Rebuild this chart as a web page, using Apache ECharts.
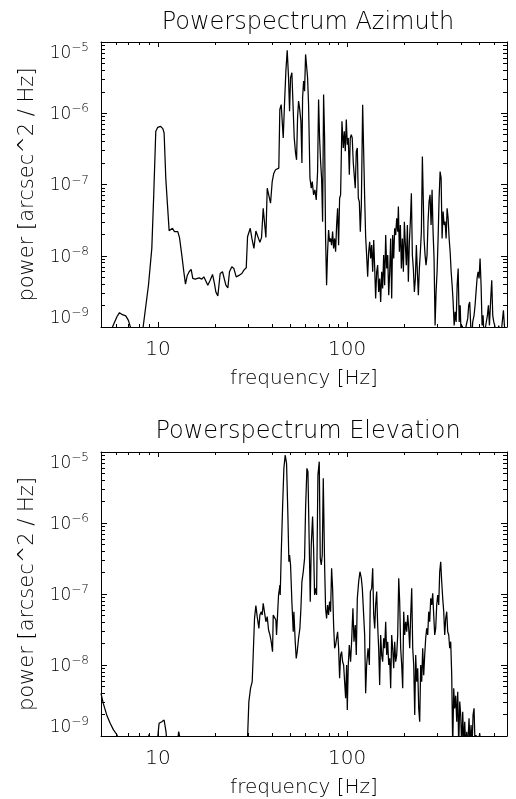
<!DOCTYPE html>
<html>
<head>
<meta charset="utf-8">
<script src="https://cdn.jsdelivr.net/npm/echarts@6/dist/echarts.min.js"></script>
<style>
html,body{margin:0;padding:0;background:#fff;}
#chart{width:516px;height:799px;}
</style>
</head>
<body>
<div id="chart"></div>
<script>
// ---- data: [frequency Hz, power arcsec^2/Hz] ----
const AZIMUTH_SPECTRUM = [
[5.4,5e-10],[5.75,1.0e-9],[6.06,1.38e-9],[6.26,1.59e-9],[6.49,1.49e-9],[6.76,1.43e-9],[6.98,1.24e-9],[7.15,1.0e-9],[7.35,5e-10],[8.1,6e-10],
[8.35,1.0e-9],[8.55,1.03e-9],[8.91,3.86e-9],[9.28,1.27e-8],[9.5,7.15e-8],[9.74,5.58e-7],[9.98,6.35e-7],[10.31,6.56e-7],[10.61,6.08e-7],[10.78,5.28e-7],
[11.0,1.23e-7],[11.23,5.18e-8],[11.46,2.25e-8],[11.74,2.3e-8],[11.93,2.43e-8],[12.23,2.18e-8],[12.48,2.11e-8],[12.73,2.18e-8],[13.0,1.8e-8],[13.37,1.02e-8],
[13.7,5.96e-9],[13.98,3.99e-9],[14.27,5.23e-9],[14.62,5.96e-9],[14.98,6.43e-9],[15.28,4.8e-9],[15.73,4.69e-9],[16.11,4.4e-9],[16.51,4.9e-9],[17.06,4.69e-9],
[17.48,5.06e-9],[17.91,4.8e-9],[18.35,3.86e-9],[18.88,4.54e-9],[19.43,5.46e-9],[19.9,4.07e-9],[20.23,3.11e-9],[20.73,2.73e-9],[21.33,5.64e-9],[21.94,5.96e-9],
[22.39,6.28e-9],[22.86,3.86e-9],[23.42,3.54e-9],[23.89,5.96e-9],[24.58,7.0e-9],[25.19,6.64e-9],[25.92,5.06e-9],[26.45,4.9e-9],[26.99,5.35e-9],[27.77,5.64e-9],
[28.46,6.28e-9],[29.29,6.78e-9],[29.76,1.85e-8],[30.75,2.43e-8],[31.38,1.75e-8],[32.16,1.27e-8],[32.94,2.22e-8],[33.75,2.18e-8],[34.58,1.54e-8],[35.29,1.8e-8],
[36.01,4.64e-8],[36.6,4.4e-8],[37.2,1.8e-8],[37.81,8.88e-8],[38.56,9.38e-8],[39.37,5.46e-8],[40.18,1.1e-7],[40.97,1.44e-7],[41.84,1.61e-7],[42.7,1.52e-7],
[43.54,1.7e-7],[44.08,1.13e-6],[44.83,1.32e-6],[45.94,4.5e-7],[46.69,1.4e-6],[47.45,3.91e-6],[48.23,7.63e-6],[49.02,3.15e-6],[49.62,1.07e-6],[50.23,3.15e-6],
[51.05,3.7e-6],[51.68,1.48e-6],[52.53,4.5e-7],[53.38,2.76e-7],[54.04,2.22e-7],[54.7,8.59e-7],[55.37,1.48e-6],[56.04,1.19e-6],[56.98,7.71e-7],[57.68,2.0e-7],
[58.15,1.64e-6],[58.86,2.83e-6],[59.58,2.04e-6],[60.31,6.7e-6],[61.05,6.35e-6],[61.8,3.15e-6],[62.55,1.32e-6],[63.61,1.23e-7],[64.63,8.88e-8],[65.41,1.1e-7],
[66.49,7.15e-8],[67.57,8.41e-8],[68.68,6.08e-8],[69.8,1.52e-7],[70.65,1.56e-6],[71.52,4.5e-7],[72.4,2.11e-7],[73.29,1.23e-7],[74.19,3.01e-8],[75.1,1.83e-6],
[76.02,4.5e-7],[76.94,1.75e-8],[77.88,3.86e-9],[78.84,1.14e-8],[79.8,2.3e-8],[80.78,1.57e-8],[81.78,1.75e-8],[82.78,1.41e-8],[83.8,2.18e-8],[84.83,1.27e-8],
[85.87,1.75e-8],[86.92,1.14e-8],[87.99,2.7e-8],[89.06,4.64e-8],[90.15,1.41e-8],[91.26,6.42e-8],[92.38,7.15e-8],[93.89,7.71e-7],[95.44,3.25e-7],[96.6,5.57e-7],
[97.79,2.92e-7],[99.0,8.15e-7],[100.2,3.62e-7],[101.4,4.5e-7],[102.7,1.37e-7],[103.9,4.5e-7],[105.2,5.01e-7],[106.4,4.5e-7],[107.8,2.0e-7],[109.1,2.11e-7],
[110.4,8.88e-8],[111.8,2.92e-7],[113.2,3.25e-7],[114.6,6.42e-8],[116.0,5.76e-8],[117.4,2.18e-8],[118.9,5.18e-8],[120.8,1.32e-6],[123.8,6.42e-8],[125.3,1.85e-8],
[126.8,1.02e-8],[128.4,5.06e-9],[130.0,1.14e-8],[131.6,1.57e-8],[133.2,9.16e-9],[134.8,1.41e-8],[136.5,5.96e-9],[138.2,1.66e-8],[139.9,6.64e-9],[141.5,2.51e-9],
[143.3,5.96e-9],[145.0,7.39e-9],[146.8,3.11e-9],[148.6,4.8e-9],[150.4,2.25e-9],[152.3,5.96e-9],[154.1,3.47e-9],[156.0,1.02e-8],[157.9,3.86e-9],[159.9,1.95e-8],
[161.9,6.64e-9],[163.9,1.02e-8],[165.9,2.79e-9],[167.9,5.96e-9],[169.9,1.75e-8],[172.0,2.51e-9],[174.1,1.95e-8],[176.3,9.16e-9],[178.4,2.43e-8],[180.6,1.95e-8],
[182.8,3.36e-8],[185.1,2.18e-8],[186.6,4.9e-8],[188.9,1.14e-8],[191.2,2.7e-8],[193.5,6.64e-9],[195.9,1.75e-8],[198.3,5.96e-9],[200.7,3.01e-8],[203.2,1.41e-8],
[205.6,7.39e-9],[208.2,2.7e-8],[210.7,4.31e-9],[213.3,1.57e-8],[215.9,3.01e-8],[218.6,7.55e-8],[221.2,1.02e-8],[223.9,6.64e-9],[226.7,3.11e-9],[229.5,4.8e-9],
[232.3,1.41e-8],[235.1,5.96e-9],[238.0,2.79e-9],[240.9,6.64e-9],[243.9,1.14e-8],[246.9,2.18e-8],[249.9,2.48e-7],[253.0,5.18e-8],[255.0,1.75e-8],[258.2,1.02e-8],
[261.3,7.39e-9],[264.5,1.02e-8],[267.8,3.01e-8],[271.1,5.76e-8],[274.4,7.15e-8],[277.8,2.7e-8],[281.2,8.41e-8],[284.6,2.18e-8],[288.1,9.16e-9],[291.7,1.05e-9],
[295.3,3.11e-9],[298.9,5.96e-9],[302.6,1.75e-8],[306.3,6.42e-8],[310.1,1.52e-7],[313.9,1.23e-7],[317.7,1.75e-8],[321.6,4.17e-8],[325.6,2.7e-8],[329.6,3.01e-8],
[333.6,1.75e-8],[337.7,4.64e-8],[341.9,3.36e-8],[346.1,1.75e-8],[350.4,1.14e-8],[354.7,5.96e-9],[359.0,3.86e-9],[363.4,2.25e-9],[367.9,1.05e-9],[372.4,1.63e-9],
[377.0,1.18e-9],[381.6,3.86e-9],[386.3,6.64e-9],[391.1,1.18e-9],[395.9,2.02e-9],[400.8,7e-10],[405.7,1.05e-9],[415.7,7e-10],[425.9,1.05e-9],[433.9,1.31e-9],
[439.2,2.02e-9],[444.6,2.25e-9],[450.1,1.05e-9],[455.6,7e-10],[461.2,1.18e-9],[468.8,1.46e-9],[474.6,2.02e-9],[480.3,3.11e-9],[486.2,4.8e-9],[492.2,5.96e-9],
[498.3,4.8e-9],[504.4,9.16e-9],[510.6,3.86e-9],[516.9,1.05e-9],[523.2,1.46e-9],[529.6,7e-10],[540.3,1.05e-9],[551.5,1.46e-9],[558.3,2.02e-9],[565.2,1.05e-9],
[574.3,2.51e-9],[581.3,4.54e-9],[588.5,1.46e-9],[595.7,1.18e-9],[603.0,1.05e-9],[617.8,7e-10],[633.0,1.05e-9],[648.6,7e-10],[670.0,1.72e-9],[678.2,1.05e-9],
[689.3,7e-10],[700,7e-10]
];

const ELEVATION_SPECTRUM = [
[5.0,3.99e-9],[5.14,2.88e-9],[5.36,1.98e-9],[5.59,1.51e-9],[5.82,1.22e-9],[6.06,1.05e-9],[6.38,7e-10],[8.74,7e-10],[8.96,1.05e-9],[9.28,7e-10],
[9.86,7e-10],[10.14,1.51e-9],[10.48,1.59e-9],[10.78,1.68e-9],[11.03,1.15e-9],[11.2,7e-10],[12.6,7e-10],[12.87,1.15e-9],[13.15,1.13e-9],[13.37,7e-10],
[29.5,7e-10],[29.8,1.03e-9],[30.24,3.05e-9],[30.86,4.69e-9],[31.49,5.82e-9],[31.88,1.38e-8],[32.4,4.54e-8],[32.93,6.85e-8],[33.47,4.8e-8],[34.16,3.28e-8],
[34.58,5.06e-8],[35.15,5.64e-8],[35.57,5.06e-8],[36.01,7.39e-8],[36.6,7.64e-8],[37.2,4.07e-8],[37.81,4.8e-8],[38.43,3.11e-8],[39.08,2.65e-8],[39.69,2.13e-8],
[40.34,1.54e-8],[40.68,5.06e-8],[41.33,5.35e-8],[42.01,4.31e-8],[42.35,2.65e-8],[43.4,9.68e-8],[44.13,1.34e-7],[44.29,9.68e-8],[44.83,3.54e-7],[45.57,1.61e-6],
[46.31,5.89e-6],[47.07,9.08e-6],[47.84,6.92e-6],[48.62,1.3e-6],[49.22,2.85e-7],[49.62,3.54e-7],[50.23,2.56e-7],[51.05,7.8e-8],[51.89,2.94e-8],[52.31,5.64e-8],
[53.17,2.13e-8],[53.82,1.24e-8],[54.48,1.54e-8],[55.37,2.38e-8],[56.27,3.28e-8],[56.98,6.28e-8],[57.68,1.49e-7],[58.63,2.06e-7],[59.58,3.18e-7],[60.31,1.61e-6],
[61.3,5.89e-6],[62.06,5.28e-6],[63.07,4.9e-7],[63.84,7.8e-8],[64.63,4.9e-7],[65.68,1.23e-6],[66.49,4.4e-7],[67.3,9.68e-8],[68.12,1.2e-7],[68.96,9.68e-8],
[70.09,4.74e-6],[71.23,7.31e-6],[72.11,3.18e-7],[72.99,2.56e-7],[73.89,3.54e-7],[74.8,4.26e-6],[76.02,2.56e-7],[76.94,6.28e-8],[77.88,4.54e-8],[78.84,7.0e-8],
[79.8,5.06e-8],[80.78,7.8e-8],[81.78,5.64e-8],[82.78,2.3e-7],[83.8,1.2e-7],[84.83,3.66e-8],[85.87,1.72e-8],[86.92,1.91e-8],[87.99,2.38e-8],[89.06,2.94e-8],
[90.15,1.72e-8],[91.26,6.49e-9],[92.38,1.38e-8],[93.51,1.54e-8],[94.66,1.11e-8],[95.82,1.0e-8],[97.0,5.82e-9],[98.2,3.4e-9],[99.4,1.0e-8],[100.2,2.32e-9],
[101.4,1.0e-8],[102.7,1.91e-8],[104.3,1.11e-8],[105.6,2.13e-8],[107.3,6.28e-8],[108.7,2.13e-8],[110.4,3.66e-8],[111.8,1.38e-8],[113.2,8.69e-8],[115.1,1.49e-7],
[116.9,2.06e-7],[118.9,1.66e-7],[120.3,1.2e-7],[121.8,6.28e-8],[123.8,2.65e-8],[125.3,3.99e-9],[126.8,1.0e-8],[129.0,1.72e-8],[131.1,1.0e-8],[132.7,1.08e-7],
[134.8,1.2e-7],[136.5,2.3e-7],[138.2,5.06e-8],[139.9,3.28e-8],[141.5,7.0e-8],[143.3,1.08e-7],[145.0,3.66e-8],[146.8,1.72e-8],[148.6,5.23e-9],[150.4,2.65e-8],
[152.3,1.38e-8],[154.1,1.11e-8],[156.0,2.38e-8],[157.9,1.72e-8],[159.9,4.07e-8],[161.9,1.38e-8],[163.9,2.13e-8],[165.9,1.0e-8],[167.9,1.24e-8],[169.9,4.69e-9],
[172.0,2.65e-8],[174.1,1.72e-8],[176.3,8.98e-9],[178.4,2.13e-8],[180.6,1.11e-8],[182.8,1.38e-8],[185.1,2.65e-8],[187.4,1.66e-7],[189.6,7.8e-8],[191.9,1.72e-8],
[194.3,1.0e-8],[196.7,4.69e-9],[199.1,5.64e-8],[201.5,2.65e-8],[204.0,4.07e-8],[206.5,2.94e-8],[209.1,5.06e-8],[211.6,3.28e-8],[214.2,1.72e-8],[216.8,5.06e-8],
[219.5,1.2e-7],[222.2,1.72e-8],[224.9,1.0e-8],[227.7,1.98e-9],[230.4,1.38e-8],[233.3,5.82e-9],[236.1,8.98e-9],[239.0,2.45e-9],[241.9,1.59e-9],[244.9,1.0e-8],
[247.9,5.82e-9],[250.9,1.72e-8],[254.0,7.2e-9],[257.1,1.38e-8],[260.2,2.38e-8],[263.4,3.28e-8],[266.7,2.65e-8],[269.9,5.64e-8],[273.2,4.07e-8],[276.6,8.69e-8],
[280.0,7.0e-8],[283.4,1.02e-7],[286.9,5.06e-8],[290.4,2.65e-8],[293.9,3.28e-8],[297.5,7.0e-8],[301.2,9.68e-8],[304.9,7.0e-8],[308.6,2.06e-7],[312.4,2.85e-7],
[316.2,1.49e-7],[320.1,8.69e-8],[324.1,5.64e-8],[328.0,2.65e-8],[332.0,4.54e-8],[336.1,5.64e-8],[340.2,2.94e-8],[344.4,2.65e-8],[348.6,1.72e-8],[352.8,2.13e-8],
[357.2,7.2e-9],[361.5,7e-10],[366.0,4.69e-9],[370.4,2.45e-9],[375.0,3.7e-9],[379.6,1.59e-9],[384.3,4.21e-9],[389.0,7e-10],[393.8,3.05e-9],[398.5,1.98e-9],
[403.4,7e-10],[408.4,2.2e-9],[413.4,7e-10],[418.4,1.59e-9],[423.6,7e-10],[428.8,1.15e-9],[434.0,7e-10],[441.0,1.77e-9],[446.4,7e-10],[452.0,1.43e-9],
[457.5,7e-10],[463.1,1.98e-9],[468.8,2.45e-9],[474.6,7e-10],[480.4,1.03e-9],[488.4,7e-10],[502.4,1.09e-9],[508.4,7e-10],[700,7e-10]
];

const TITLES = ['Powerspectrum Azimuth', 'Powerspectrum Elevation'];
const X_NAME = 'frequency [Hz]';
const Y_NAME = 'power [arcsec^2 / Hz]';
const X_RANGE = [5, 700];
const Y_RANGE = [1e-9, 1e-5];
const X_MAJOR_TICKS = [10, 100];
const X_MINOR_TICKS = [6, 7, 8, 9, 20, 30, 40, 50, 60, 70, 80, 90, 200, 300, 400, 500, 600];
const Y_MAJOR_TICKS = [1e-9, 1e-8, 1e-7, 1e-6, 1e-5];
const Y_MINOR_TICKS = [
  2e-9, 3e-9, 4e-9, 5e-9, 6e-9, 7e-9, 8e-9, 9e-9,
  2e-8, 3e-8, 4e-8, 5e-8, 6e-8, 7e-8, 8e-8, 9e-8,
  2e-7, 3e-7, 4e-7, 5e-7, 6e-7, 7e-7, 8e-7, 9e-7,
  2e-6, 3e-6, 4e-6, 5e-6, 6e-6, 7e-6, 8e-6, 9e-6
];

// ---- styling / layout ----
const FONT = 'DejaVu Sans';
const WEIGHT = 300;
const INK = '#000';
const GRIDS = [
  { left: 101, top: 42, width: 406, height: 285 },
  { left: 101, top: 452, width: 406, height: 284 }
];
const TITLE_Y = [23, 432];

const lineStyle = { color: '#000', width: 1 };

function xAxesFor(g) {
  const base = {
    type: 'log', logBase: 10, gridIndex: g, min: X_RANGE[0], max: X_RANGE[1],
    splitLine: { show: false }, minorTick: { show: false }, minorSplitLine: { show: false },
    silent: true, axisPointer: { show: false }
  };
  return [
    Object.assign({}, base, {
      position: 'bottom',
      axisLine: { show: true, lineStyle: lineStyle },
      axisTick: { show: true, inside: true, length: 5, customValues: X_MAJOR_TICKS, lineStyle: lineStyle },
      axisLabel: {
        show: true, customValues: X_MAJOR_TICKS, margin: 13, fontSize: 20, fontFamily: FONT, fontWeight: WEIGHT, color: INK,
        formatter: v => String(Math.round(v))
      },
      name: X_NAME, nameLocation: 'middle', nameGap: 42,
      nameTextStyle: { fontSize: 20, fontFamily: FONT, fontWeight: WEIGHT, color: INK }
    }),
    Object.assign({}, base, {
      position: 'bottom',
      axisLine: { show: false },
      axisTick: { show: true, inside: true, length: 3, customValues: X_MINOR_TICKS, lineStyle: lineStyle },
      axisLabel: { show: false }
    }),
    Object.assign({}, base, {
      position: 'top',
      axisLine: { show: true, lineStyle: lineStyle },
      axisTick: { show: true, inside: true, length: 5, customValues: X_MAJOR_TICKS, lineStyle: lineStyle },
      axisLabel: { show: false }
    }),
    Object.assign({}, base, {
      position: 'top',
      axisLine: { show: false },
      axisTick: { show: true, inside: true, length: 3, customValues: X_MINOR_TICKS, lineStyle: lineStyle },
      axisLabel: { show: false }
    })
  ];
}

function yAxesFor(g) {
  const base = {
    type: 'log', logBase: 10, gridIndex: g, min: Y_RANGE[0], max: Y_RANGE[1],
    splitLine: { show: false }, minorTick: { show: false }, minorSplitLine: { show: false },
    silent: true, axisPointer: { show: false }
  };
  return [
    Object.assign({}, base, {
      position: 'left',
      axisLine: { show: true, lineStyle: lineStyle },
      axisTick: { show: true, inside: true, length: 6, customValues: Y_MAJOR_TICKS, lineStyle: lineStyle },
      axisLabel: {
        show: true, customValues: Y_MAJOR_TICKS, margin: 12,
        verticalAlignMinLabel: 'bottom', verticalAlignMaxLabel: 'top',
        formatter: v => '{b|10}{s|\u2212' + Math.abs(Math.round(Math.log10(v))) + '}',
        rich: {
          b: { fontSize: 17, lineHeight: 20, verticalAlign: 'bottom', fontFamily: FONT, fontWeight: WEIGHT, color: INK },
          s: { fontSize: 12, lineHeight: 13, verticalAlign: 'top', fontFamily: FONT, fontWeight: WEIGHT, color: INK }
        }
      },
      name: Y_NAME, nameLocation: 'middle', nameGap: 63, nameRotate: 90,
      nameTextStyle: { fontSize: 21, fontFamily: FONT, fontWeight: WEIGHT, color: INK }
    }),
    Object.assign({}, base, {
      position: 'left',
      axisLine: { show: false },
      axisTick: { show: true, inside: true, length: 4, customValues: Y_MINOR_TICKS, lineStyle: lineStyle },
      axisLabel: { show: false }
    }),
    Object.assign({}, base, {
      position: 'right',
      axisLine: { show: true, lineStyle: lineStyle },
      axisTick: { show: true, inside: true, length: 6, customValues: Y_MAJOR_TICKS, lineStyle: lineStyle },
      axisLabel: { show: false }
    }),
    Object.assign({}, base, {
      position: 'right',
      axisLine: { show: false },
      axisTick: { show: true, inside: true, length: 4, customValues: Y_MINOR_TICKS, lineStyle: lineStyle },
      axisLabel: { show: false }
    })
  ];
}

const chart = echarts.init(document.getElementById('chart'), null, { renderer: 'canvas', width: 516, height: 799 });

const option = {
  backgroundColor: '#fff',
  animation: false,
  title: TITLES.map((t, i) => ({
    text: t, left: 308, top: TITLE_Y[i], textAlign: 'center', textVerticalAlign: 'middle', padding: 0,
    textStyle: { fontSize: 24, fontWeight: WEIGHT, fontFamily: FONT, color: INK }
  })),
  grid: GRIDS.map(g => Object.assign({ containLabel: false, outerBoundsMode: 'none', show: false }, g)),
  xAxis: [].concat(xAxesFor(0), xAxesFor(1)),
  yAxis: [].concat(yAxesFor(0), yAxesFor(1)),
  series: [
    {
      type: 'line', name: 'Azimuth', xAxisIndex: 0, yAxisIndex: 0,
      data: AZIMUTH_SPECTRUM, showSymbol: false, symbol: 'none', clip: true, silent: true,
      lineStyle: { color: '#000', width: 1.25 }
    },
    {
      type: 'line', name: 'Elevation', xAxisIndex: 4, yAxisIndex: 4,
      data: ELEVATION_SPECTRUM, showSymbol: false, symbol: 'none', clip: true, silent: true,
      lineStyle: { color: '#000', width: 1.25 }
    }
  ]
};
chart.setOption(option);
</script>
</body>
</html>
